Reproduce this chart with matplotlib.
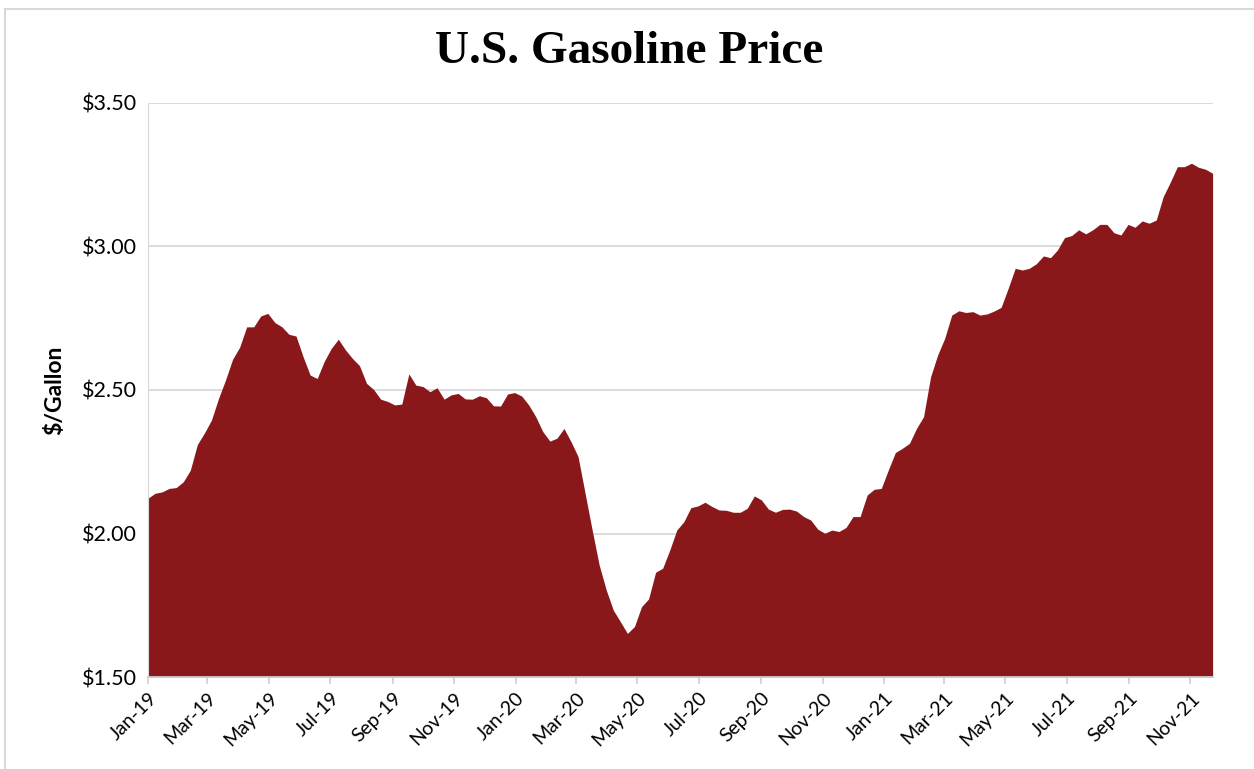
import numpy as np
import pandas as pd
import matplotlib.pyplot as plt
import matplotlib.dates as mdates
from matplotlib.lines import Line2D
from matplotlib.ticker import FuncFormatter

# weekly U.S. gasoline price, $/gallon
prices = [
    2.123, 2.140, 2.145, 2.157, 2.160, 2.180, 2.220, 2.310, 2.350, 2.395,
    2.470, 2.535, 2.607, 2.649, 2.720, 2.720, 2.758, 2.767, 2.735, 2.720,
    2.694, 2.688, 2.616, 2.552, 2.540, 2.600, 2.645, 2.677, 2.640, 2.610,
    2.585, 2.523, 2.502, 2.468, 2.460, 2.448, 2.451, 2.556, 2.517, 2.512,
    2.494, 2.508, 2.468, 2.483, 2.488, 2.469, 2.468, 2.480, 2.473, 2.445,
    2.444, 2.486, 2.491, 2.479, 2.448, 2.407, 2.355, 2.322, 2.332, 2.366,
    2.320, 2.268, 2.140, 2.012, 1.890, 1.803, 1.733, 1.693, 1.652, 1.676,
    1.745, 1.772, 1.865, 1.879, 1.942, 2.012, 2.041, 2.090, 2.096, 2.109,
    2.094, 2.082, 2.081, 2.074, 2.074, 2.088, 2.131, 2.117, 2.085, 2.074,
    2.084, 2.085, 2.078, 2.059, 2.047, 2.015, 2.001, 2.012, 2.007, 2.021,
    2.059, 2.059, 2.134, 2.154, 2.157, 2.221, 2.282, 2.297, 2.314, 2.366,
    2.407, 2.546, 2.622, 2.680, 2.761, 2.776, 2.770, 2.773, 2.761, 2.765,
    2.775, 2.788, 2.854, 2.924, 2.918, 2.924, 2.940, 2.967, 2.961, 2.988,
    3.031, 3.038, 3.058, 3.044, 3.058, 3.077, 3.077, 3.048, 3.040, 3.077,
    3.067, 3.089, 3.081, 3.092, 3.174, 3.224, 3.278, 3.278, 3.290, 3.276,
    3.269, 3.255,
]
weeks = pd.date_range("2019-01-07", periods=len(prices), freq="7D")
tick_dates = pd.date_range("2019-01-07", periods=18, freq=pd.DateOffset(months=2))
y_ticks = [1.50, 2.00, 2.50, 3.00, 3.50]

fig = plt.figure(figsize=(12.54, 7.69), dpi=100)
ax = fig.add_axes([0.118, 0.1196, 0.849, 0.7465])

ax.fill_between(weeks, prices, 1.5, color="#8a181b", lw=0, zorder=2)

ax.set_ylim(1.5, 3.5)
ax.set_xlim(weeks[0], weeks[-1])
ax.set_yticks(y_ticks)
ax.yaxis.set_major_formatter(FuncFormatter(lambda v, p: "${:.2f}".format(v)))
ax.set_xticks(tick_dates)
ax.xaxis.set_major_formatter(mdates.DateFormatter("%b-%y"))

ax.grid(axis="y", color="#d9d9d9", lw=1.3, zorder=0)
ax.set_axisbelow(True)
for s in ["top", "right"]:
    ax.spines[s].set_visible(False)
ax.spines["left"].set_color("#d9d9d9")
ax.spines["bottom"].set_color("#d0d0d0")
ax.spines["bottom"].set_linewidth(1.3)

ax.tick_params(axis="y", length=0, pad=8, labelsize=15.5, labelcolor="black")
ax.tick_params(axis="x", length=5, width=1.2, color="#d0d0d0", pad=4,
               labelsize=14, labelcolor="black")
for lab in ax.get_yticklabels() + ax.get_xticklabels():
    lab.set_family("Lato")
for lab in ax.get_xticklabels():
    lab.set_rotation(45)
    lab.set_ha("right")
    lab.set_rotation_mode("anchor")

fig.text(0.502, 0.933, "U.S. Gasoline Price", ha="center", va="center",
         fontsize=34, fontweight="bold", family="Liberation Serif")
fig.text(55 / 1254, 1 - 390 / 769, "$/Gallon", rotation=90, ha="center",
         va="center", fontsize=16.5, fontweight="bold", family="Lato")

# light frame around the chart area
fig.add_artist(Line2D([5 / 1254, 5 / 1254], [0, 1 - 9 / 769],
                      transform=fig.transFigure, color="#d9d9d9", lw=1.5))
fig.add_artist(Line2D([5 / 1254, 1], [1 - 9 / 769, 1 - 9 / 769],
                      transform=fig.transFigure, color="#d9d9d9", lw=1.5))

fig.savefig("out.png", dpi=100)
